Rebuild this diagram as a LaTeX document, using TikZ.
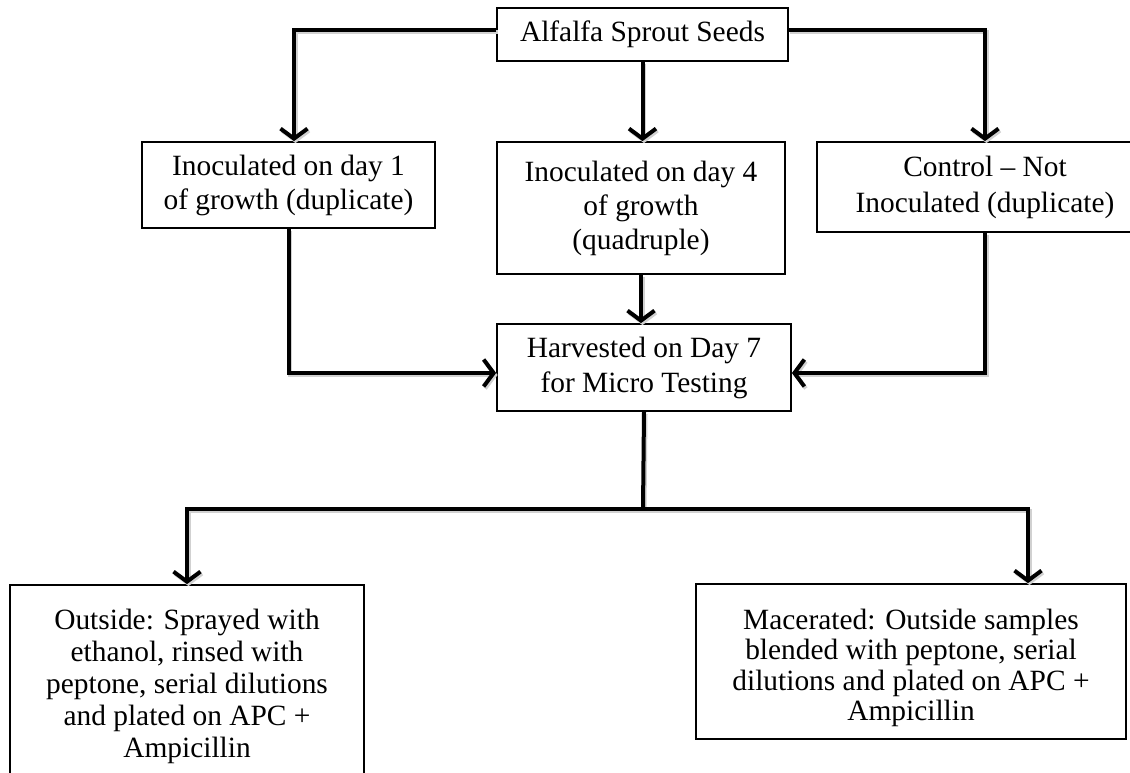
\documentclass[tikz,border=0pt]{standalone}
\usepackage{fontspec}
\setmainfont{Liberation Serif}
\usetikzlibrary{arrows.meta}

\begin{document}
\begin{tikzpicture}[x=1pt,y=-1pt,
  box/.style={draw, line width=1.8pt, inner sep=0pt, align=center,
    font=\fontsize{29.4}{34}\selectfont},
  conn/.style={line width=4pt, line join=miter,
    preaction={draw=black!18, line width=4pt,
      transform canvas={shift={(1.5pt,-2pt)}}}},
  flow/.style={conn, -{Straight Barb[length=10pt,width=27pt]}}
]
\useasboundingbox (0,0) rectangle (1130,773);
\clip (0,0) rectangle (1130,773);
\fill[white] (0,0) rectangle (1130,773);

% boxes
\node[box, minimum width=291pt, minimum height=53pt] (seeds) at (642.5,34.5)
  {Alfalfa Sprout Seeds};
\node[box, minimum width=293pt, minimum height=86pt] (inoc1) at (288.5,185)
  {Inoculated on day 1\\of growth (duplicate)};
\node[box, minimum width=288pt, minimum height=132pt] (inoc4) at (641,208)
  {Inoculated on day 4\\of growth\\(quadruple)};
\node[box, minimum width=336pt, minimum height=90pt,
  font=\fontsize{29.4}{36}\selectfont] (control) at (985,187)
  {Control -- Not\\Inoculated (duplicate)};
\node[box, minimum width=294pt, minimum height=87pt,
  font=\fontsize{29.4}{35}\selectfont] (harvest) at (644,367.5)
  {Harvested on Day 7\\for Micro Testing};
\node[box, minimum width=354pt, minimum height=202pt,
  font=\fontsize{29.4}{32}\selectfont] (outside) at (187,686)
  {Outside: Sprayed with\\ethanol, rinsed with\\peptone, serial dilutions\\and plated on APC +\\Ampicillin};
\node[box, minimum width=430pt, minimum height=155pt,
  font=\fontsize{29.4}{30.5}\selectfont] (macer) at (911,661.5)
  {\rule{0pt}{33pt}Macerated: Outside samples\\blended with peptone, serial\\dilutions and plated on APC +\\Ampicillin};

\coordinate (split) at (643,509);

% connectors from the seeds
\draw[flow] ([yshift=4.5pt]seeds.west) -| ([xshift=5.5pt]inoc1.north);
\draw[flow] (seeds.south) -- (seeds.south |- inoc4.north);
\draw[flow] ([yshift=4.5pt]seeds.east) -| (control.north);

% connectors into the harvest step
\draw[flow] (inoc1.south) |- ([yshift=-5.5pt]harvest.west);
\draw[flow] (inoc4.south) -- (inoc4.south |- harvest.north);
\draw[flow] (control.south) |- ([yshift=-5.5pt]harvest.east);

% split to the two test methods
\draw[conn] (harvest.south) -- (split);
\draw[flow] (split) -| (outside.north);
\draw[flow] (split) -| ([xshift=117pt]macer.north);
\end{tikzpicture}
\end{document}
